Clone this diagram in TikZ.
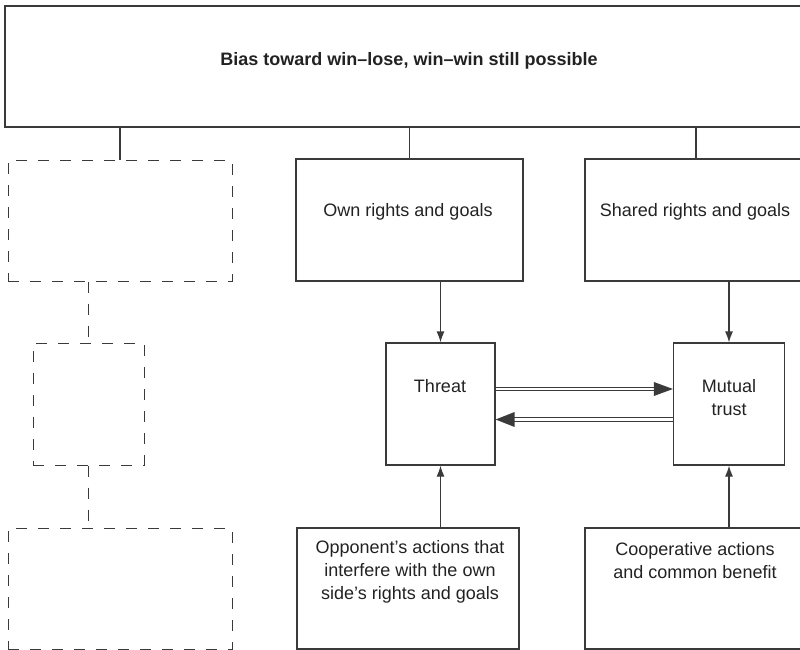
\documentclass[tikz,border=0pt]{standalone}
\usepackage{fontspec}
\setmainfont{Liberation Sans}
\usetikzlibrary{arrows.meta}
\definecolor{linegray}{HTML}{3A3A3A}
\definecolor{textgray}{HTML}{222222}
\begin{document}
\begin{tikzpicture}[x=1pt,y=-1pt,
  box/.style={draw=linegray, line width=1.2pt, rectangle, inner sep=0pt},
  ghost/.style={box, line width=1pt, dash pattern=on 11pt off 11pt},
  lbl/.style={font=\fontsize{18}{23}\selectfont, text=textgray, align=center, inner sep=0pt},
  link/.style={draw=linegray, line width=1.2pt},
  ghostlink/.style={link, line width=1pt, dash pattern=on 11pt off 11pt},
  arr/.style={link, -{Latex[length=11pt,width=8pt]}},
  twin/.style={draw=linegray, line width=1pt, double=white, double distance=2.5pt, shorten >=18pt},
]
\useasboundingbox (0,0) rectangle (800,650);
\clip (0,0) rectangle (800,650);

% header spanning the whole width
\node[box, minimum width=807pt, minimum height=121pt] (top) at (408.5,66.5) {};
\node[lbl, font=\fontsize{18}{23}\selectfont\bfseries] (title) at (409,61) {Bias toward win--lose, win--win still possible};

% empty dashed column on the left
\node[ghost, minimum width=224pt, minimum height=121pt] (g1) at (120,220.5) {};
\node[ghost, minimum width=111pt, minimum height=122pt] (g2) at (88.5,404) {};
\node[ghost, minimum width=224pt, minimum height=121pt] (g3) at (120,588.5) {};

% main boxes
\node[box, minimum width=227pt, minimum height=122pt] (own) at (409.5,220) {};
\node[lbl] (ownt) at (408,212) {Own rights and goals};
\node[box, minimum width=222pt, minimum height=122pt] (shared) at (696,220) {};
\node[lbl] (sharedt) at (695,212) {Shared rights and goals};
\node[box, minimum width=109pt, minimum height=122pt] (threat) at (440.5,404) {};
\node[lbl] (threatt) at (440,386) {Threat};
\node[box, minimum width=111pt, minimum height=122pt] (mutual) at (729,404) {};
\node[lbl] (mutualt) at (729,397.5) {Mutual\\trust};
\node[box, minimum width=222pt, minimum height=121pt] (opp) at (408,588.5) {};
\node[lbl] (oppt) at (410,572) {Opponent’s actions that\\interfere with the own\\side’s rights and goals};
\node[box, minimum width=222pt, minimum height=121pt] (coop) at (696,588.5) {};
\node[lbl] (coopt) at (695,560.5) {Cooperative actions\\and common benefit};

% connectors from the header
\draw[link] (top.south -| g1.north) -- (g1.north);
\draw[link] (top.south -| own.north) -- (own.north);
\draw[link] (top.south -| shared.north) -- (shared.north);

% dashed links in the left column
\draw[ghostlink] (g1.south -| g2.north) -- (g2.north);
\draw[ghostlink] (g2.south) -- (g3.north -| g2.south);

% arrows into Threat and Mutual trust
\draw[arr] (own.south -| threat.north) -- (threat.north);
\draw[arr] (shared.south -| mutual.north) -- (mutual.north);
\draw[arr] (opp.north -| threat.south) -- (threat.south);
\draw[arr] (coop.north -| mutual.south) -- (mutual.south);

% double arrows between Threat and Mutual trust
\draw[twin] ([yshift=15pt]threat.east) -- ([yshift=15pt]mutual.west);
\fill[linegray] ([yshift=15pt]mutual.west) -- ++(-19,-7) -- ++(0,14) -- cycle;
\draw[twin] ([yshift=-15.5pt]mutual.west) -- ([yshift=-15.5pt]threat.east);
\fill[linegray] ([yshift=-15.5pt]threat.east) -- ++(19,-7.5) -- ++(0,15) -- cycle;
\end{tikzpicture}
\end{document}
